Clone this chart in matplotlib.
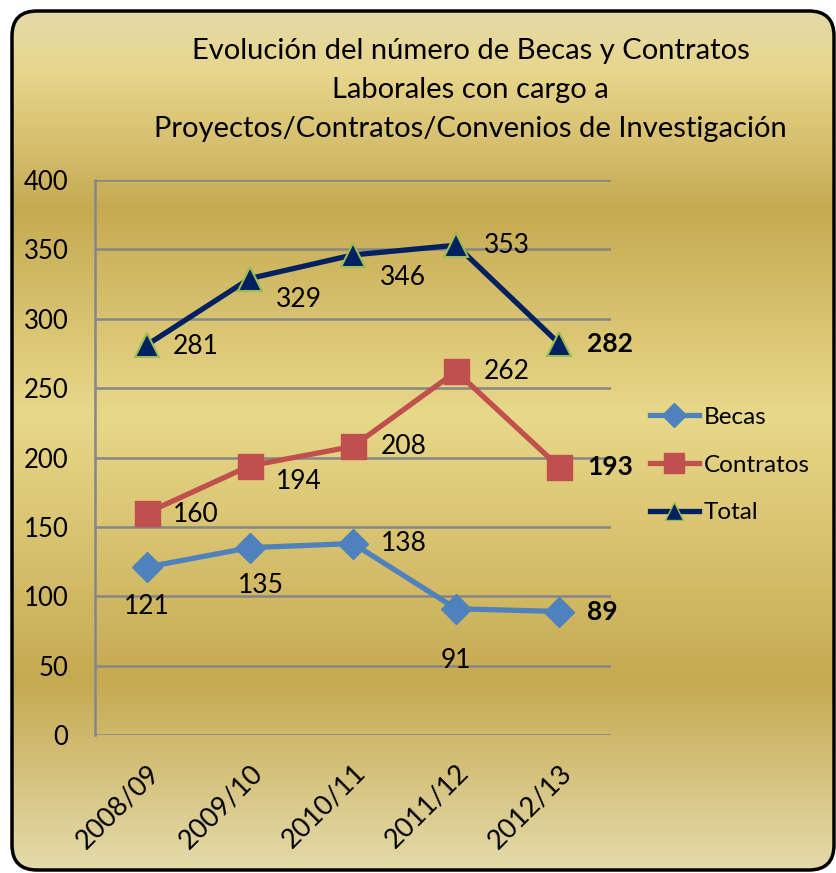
import numpy as np
import matplotlib
matplotlib.use('Agg')
import matplotlib.pyplot as plt
from matplotlib.patches import FancyBboxPatch
from matplotlib.lines import Line2D

plt.rcParams['font.family'] = ['Lato', 'DejaVu Sans']

# datos
cursos = ['2008/09', '2009/10', '2010/11', '2011/12', '2012/13']
becas = [121, 135, 138, 91, 89]
contratos = [160, 194, 208, 262, 193]
total = [281, 329, 346, 353, 282]

titulo = ('Evolución del número de Becas y Contratos\n'
          'Laborales con cargo a\n'
          'Proyectos/Contratos/Convenios de Investigación')

# desplazamiento de etiquetas (puntos)
off_becas = [(0, -28), (8, -27), (20, 0), (0, -37), (20, 0)]
off_contr = [(19, -1), (19, -11), (20, 0), (20, 0), (20, 0)]
off_total = [(19, -1), (19, -15), (19, -16), (20, 0), (20, 0)]

W, H = 837, 873
fig = plt.figure(figsize=(W / 100, H / 100), dpi=100)
fig.patch.set_facecolor('white')

# fondo dorado con degradado
bg = fig.add_axes([0, 0, 1, 1])
bg.set_xlim(0, W); bg.set_ylim(H, 0)
bg.axis('off')
stops_y = [0.0, 0.07, 0.23, 0.47, 0.78, 1.0]
stops_c = np.array([(228, 218, 168), (232, 214, 140), (198, 170, 82),
                    (232, 216, 138), (198, 170, 82), (228, 218, 170)]) / 255.
yy = np.linspace(0, 1, 400)
grad = np.stack([np.interp(yy, stops_y, stops_c[:, k]) for k in range(3)], axis=1)
grad = np.repeat(grad[:, None, :], 2, axis=1)
im = bg.imshow(grad, extent=[12, 834, 870, 11], aspect='auto', zorder=0)
box = FancyBboxPatch((12 + 25, 11 + 25), 822 - 50, 859 - 50,
                     boxstyle='round,pad=25', facecolor='none',
                     edgecolor='black', linewidth=2.5, zorder=2)
bg.add_patch(box)
im.set_clip_path(box)

fig.text(0.562, 0.957, titulo, ha='center', va='top', fontsize=21,
         linespacing=1.62)

ax = fig.add_axes([95 / W, 1 - 735 / H, (611 - 95) / W, (735 - 180) / H])
ax.set_facecolor('none')
x = np.arange(len(cursos))
ax.set_xlim(-0.5, len(cursos) - 0.5)
ax.set_ylim(0, 400)
ax.set_yticks(range(0, 401, 50))
ax.yaxis.grid(True, color='#868686', linewidth=1.8)
ax.set_axisbelow(True)
for s in ['top', 'right', 'bottom']:
    ax.spines[s].set_visible(False)
ax.spines['left'].set_color('#868686')
ax.spines['left'].set_linewidth(1.8)
ax.tick_params(axis='y', length=0, pad=19, labelsize=18.5)
ax.tick_params(axis='x', length=0, pad=18, labelsize=19.5)
ax.set_xticks(x)
ax.set_xticklabels(cursos, rotation=45, ha='right', rotation_mode='anchor')

ax.plot(x, becas, color='#4F81BD', lw=3.8, marker='D', ms=15, mec='#4F81BD', zorder=3)
ax.plot(x, contratos, color='#C0504D', lw=3.8, marker='s', ms=18, mec='#C0504D', zorder=3)
ax.plot(x, total, color='#002060', lw=3.8, marker='^', ms=17, mec='#9BBB59', mew=1.5, zorder=3)

for serie, offs in [(becas, off_becas), (contratos, off_contr), (total, off_total)]:
    for i, v in enumerate(serie):
        dx, dy = offs[i]
        ha = 'left' if dx > 10 else 'center'
        ax.annotate(str(v), (x[i], v), xytext=(dx, dy), textcoords='offset points',
                    ha=ha, va='center', fontsize=19,
                    fontweight='bold' if i == len(serie) - 1 else 'normal')

handles = [Line2D([], [], color='#4F81BD', lw=3.8, marker='D', ms=12),
           Line2D([], [], color='#C0504D', lw=3.8, marker='s', ms=14),
           Line2D([], [], color='#002060', lw=3.8, marker='^', ms=13, mec='#9BBB59')]
fig.legend(handles, ['Becas', 'Contratos', 'Total'], loc='center left',
           bbox_to_anchor=(650 / W, 1 - 465 / H), frameon=False, fontsize=17.5,
           borderaxespad=0, borderpad=0,
           handlelength=2.0, handletextpad=0.2, labelspacing=1.1)

fig.savefig('out.png', dpi=100)
